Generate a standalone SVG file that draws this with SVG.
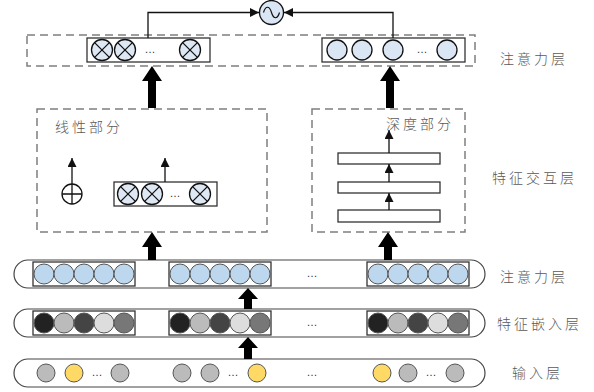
<svg xmlns="http://www.w3.org/2000/svg" xmlns:xlink="http://www.w3.org/1999/xlink" width="594" height="392" viewBox="0 0 594 392">
<style>
.dash{fill:none;stroke:#7f7f7f;stroke-width:1.5;stroke-dasharray:8 5}
.box{fill:#fff;stroke:#333;stroke-width:1.3}
.pill{fill:#fff;stroke:#444;stroke-width:1.2}
.c{stroke:#555;stroke-width:1}
.lbl{font-family:"Noto Sans CJK SC","Noto Sans",sans-serif;font-size:14px;font-weight:300;fill:#595959;letter-spacing:3px}
.dots{font-family:"Liberation Sans",sans-serif;font-size:11px;fill:#333}
.thin{stroke:#111;stroke-width:1.3;fill:none}
.big{fill:#000}
</style>
<defs>
<g id="otimes">
<circle r="10.5" fill="#dde8f4" stroke="#111" stroke-width="1.3"/>
<path d="M-7.4,-7.4 L7.4,7.4 M7.4,-7.4 L-7.4,7.4" stroke="#111" stroke-width="1.3"/>
</g>
<g id="emb">
<circle cx="-40" r="10" fill="#222" class="c"/>
<circle cx="-20" r="10" fill="#bbb" class="c"/>
<circle cx="0" r="10" fill="#444" class="c"/>
<circle cx="20" r="10" fill="#ddd" class="c"/>
<circle cx="40" r="10" fill="#777" class="c"/>
</g>
<g id="att5">
<circle cx="-40" r="10" fill="#bdd7ee" class="c"/>
<circle cx="-20" r="10" fill="#bdd7ee" class="c"/>
<circle cx="0" r="10" fill="#bdd7ee" class="c"/>
<circle cx="20" r="10" fill="#bdd7ee" class="c"/>
<circle cx="40" r="10" fill="#bdd7ee" class="c"/>
</g>
<marker id="ah" viewBox="0 0 10 10" refX="10" refY="5" markerWidth="9" markerHeight="9" markerUnits="userSpaceOnUse" orient="auto">
<path d="M0,0 L10,5 L0,10 z" fill="#111"/>
</marker>
</defs>

<!-- Attention layer (top) -->
<g id="top-layer">
<rect class="dash" x="27" y="35" width="448" height="31"/>
</g>
<g id="top-left-box">
<rect class="box" x="87" y="38" width="123" height="24"/>
<use xlink:href="#otimes" x="102" y="50"/>
<use xlink:href="#otimes" x="125" y="50"/>
<text class="dots" x="150" y="53" text-anchor="middle">…</text>
<use xlink:href="#otimes" x="190" y="50"/>
</g>
<g id="top-right-box">
<rect class="box" x="322" y="38" width="143" height="24"/>
<circle cx="337" cy="50" r="10" fill="#dae6f3" stroke="#111" stroke-width="1.3"/>
<circle cx="362" cy="50" r="10" fill="#dae6f3" stroke="#111" stroke-width="1.3"/>
<circle cx="393" cy="50" r="10" fill="#dae6f3" stroke="#111" stroke-width="1.3"/>
<text class="dots" x="422" y="53" text-anchor="middle">…</text>
<circle cx="447" cy="50" r="10" fill="#dae6f3" stroke="#111" stroke-width="1.3"/>
</g>
<g id="sum">
<circle cx="271.5" cy="12.5" r="12" fill="#dae6f3" stroke="#111" stroke-width="1.3"/>
<path d="M263.5,12.5 C265.5,5.5 269.5,5.5 271.5,12.5 C273.5,19.5 277.5,19.5 279.5,12.5" fill="none" stroke="#111" stroke-width="1.2"/>
</g>

<!-- Interaction layer -->
<g id="linear-part">
<rect class="dash" x="37" y="109" width="230" height="123"/>
<text class="lbl" x="55" y="132">线性部分</text>
<circle cx="72" cy="194" r="10" fill="#fff" stroke="#111" stroke-width="1.3"/>
<path d="M62,194 H82 M72,184 V204" stroke="#111" stroke-width="1.3"/>
<rect class="box" x="114" y="182" width="103" height="24"/>
<use xlink:href="#otimes" x="128" y="194"/>
<use xlink:href="#otimes" x="152" y="194"/>
<text class="dots" x="175" y="197" text-anchor="middle">…</text>
<use xlink:href="#otimes" x="200" y="194"/>
</g>
<g id="deep-part">
<rect class="dash" x="312" y="109" width="153" height="123"/>
<text class="lbl" x="386" y="129">深度部分</text>
<rect class="box" x="338" y="153" width="102" height="11"/>
<rect class="box" x="338" y="182" width="102" height="11"/>
<rect class="box" x="338" y="210" width="102" height="12"/>
</g>

<!-- Bottom rows -->
<g id="attention-row">
<rect class="pill" x="14" y="260" width="471" height="28" rx="14"/>
<rect class="box" x="33" y="262" width="102" height="24"/>
<use xlink:href="#att5" x="84" y="274"/>
<rect class="box" x="169" y="262" width="102" height="24"/>
<use xlink:href="#att5" x="220" y="274"/>
<text class="dots" x="312" y="277" text-anchor="middle">…</text>
<rect class="box" x="367" y="262" width="102" height="24"/>
<use xlink:href="#att5" x="418" y="274"/>
</g>
<g id="embedding-row">
<rect class="pill" x="14" y="309" width="471" height="28" rx="14"/>
<rect class="box" x="33" y="311" width="102" height="24"/>
<use xlink:href="#emb" x="84" y="323"/>
<rect class="box" x="169" y="311" width="102" height="24"/>
<use xlink:href="#emb" x="220" y="323"/>
<text class="dots" x="312" y="326" text-anchor="middle">…</text>
<rect class="box" x="367" y="311" width="102" height="24"/>
<use xlink:href="#emb" x="418" y="323"/>
</g>
<g id="input-row">
<rect class="pill" x="14" y="359" width="471" height="28" rx="14"/>
<circle cx="46" cy="373" r="9" fill="#bbb" class="c"/>
<circle cx="74" cy="373" r="9" fill="#ffd966" class="c"/>
<text class="dots" x="97" y="376" text-anchor="middle">…</text>
<circle cx="120" cy="373" r="9" fill="#bbb" class="c"/>
<circle cx="182" cy="373" r="9" fill="#bbb" class="c"/>
<circle cx="210" cy="373" r="9" fill="#bbb" class="c"/>
<text class="dots" x="233" y="376" text-anchor="middle">…</text>
<circle cx="257" cy="373" r="9" fill="#ffd966" class="c"/>
<text class="dots" x="312" y="376" text-anchor="middle">…</text>
<circle cx="382" cy="373" r="9" fill="#ffd966" class="c"/>
<circle cx="408" cy="373" r="9" fill="#bbb" class="c"/>
<text class="dots" x="431" y="376" text-anchor="middle">…</text>
<circle cx="455" cy="373" r="9" fill="#bbb" class="c"/>
</g>

<!-- Layer labels -->
<g id="labels">
<text class="lbl" x="500" y="64">注意力层</text>
<text class="lbl" x="492" y="183">特征交互层</text>
<text class="lbl" x="500" y="282">注意力层</text>
<text class="lbl" x="497" y="329">特征嵌入层</text>
<text class="lbl" x="512" y="378">输入层</text>
</g>

<!-- Connectors -->
<g id="connectors">
<path class="thin" d="M148,38 V12.5 H259" marker-end="url(#ah)"/>
<path class="thin" d="M393,38 V12.5 H284" marker-end="url(#ah)"/>
<path class="thin" d="M72,184 V158" marker-end="url(#ah)"/>
<path class="thin" d="M165,182 V158" marker-end="url(#ah)"/>
<path class="thin" d="M389,153 V130" marker-end="url(#ah)"/>
<path class="thin" d="M389,182 V164" marker-end="url(#ah)"/>
<path class="thin" d="M389,210 V193" marker-end="url(#ah)"/>
<polygon class="big" points="152,66 162,81 156,81 156,108 148,108 148,81 142,81"/>
<polygon class="big" points="390,66 400,81 394,81 394,108 386,108 386,81 380,81"/>
<polygon class="big" points="152,232 162,247 156,247 156,260 148,260 148,247 142,247"/>
<polygon class="big" points="388,232 398,247 392,247 392,260 384,260 384,247 378,247"/>
<polygon class="big" points="248,288 258,299 252,299 252,309 244,309 244,299 238,299"/>
<polygon class="big" points="248,337 258,348 252,348 252,359 244,359 244,348 238,348"/>
</g>
</svg>
